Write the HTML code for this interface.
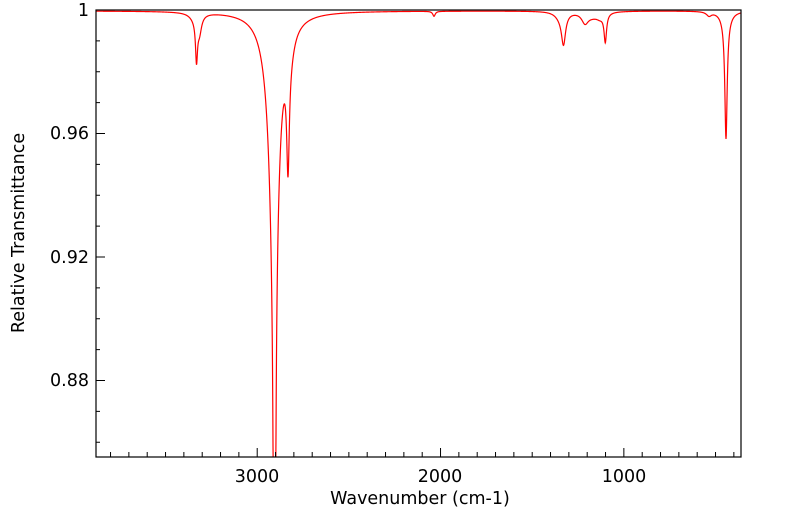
<!DOCTYPE html>
<html><head><meta charset="utf-8"><style>
html,body{margin:0;padding:0;background:#fff;}
svg{display:block;font-family:"DejaVu Sans","Liberation Sans",sans-serif;}
</style></head><body>
<svg id="s" width="799" height="516" viewBox="0 0 799 516" xmlns="http://www.w3.org/2000/svg">
<defs><clipPath id="c"><rect x="96" y="10" width="645" height="447"/></clipPath></defs>
<rect width="799" height="516" fill="#fff"/>
<path id="spec" d="" fill="none" stroke="#ff0000" stroke-width="1.2" clip-path="url(#c)"/>
<g id="ticks" stroke="#000" stroke-width="1"></g>
<rect x="96" y="10" width="645" height="447" fill="none" stroke="#000" stroke-width="1.2"/>
<g font-size="17.5" fill="#000" text-anchor="end">
<text x="89" y="16">1</text>
<text x="89" y="139">0.96</text>
<text x="89" y="263">0.92</text>
<text x="89" y="386">0.88</text>
</g>
<g font-size="17.5" fill="#000" text-anchor="middle">
<text x="257" y="482">3000</text>
<text x="440" y="482">2000</text>
<text x="624" y="482">1000</text>
<text x="420" y="504">Wavenumber (cm-1)</text>
<text transform="translate(24,233) rotate(-90)">Relative Transmittance</text>
</g>
</svg>
<script>
var ns="http://www.w3.org/2000/svg",g=document.getElementById("ticks");
function ln(x1,y1,x2,y2){var l=document.createElementNS(ns,"line");l.setAttribute("x1",x1);l.setAttribute("y1",y1);l.setAttribute("x2",x2);l.setAttribute("y2",y2);g.appendChild(l);}
for(var w=3800;w>=400;w-=100){var x=257.2+(3000-w)*0.18333;var maj=(w%1000==0);ln(x,457,x,457-(maj?9:5));}
for(var i=0;i<=14;i++){var v=1-i*0.01;var y=10+(1-v)*3087.5;if(y>457)break;var maj=(i%4==0);ln(96,y,96+(maj?9:4),y);}
var P=[[196.5,40,1.2],[199.5,16,2.5],[195,6,6],
[274.5,700,0.9],[274.3,240,5.2],[270,18,10],
[288,110,1.6],[290,16,5],[282,6,15],
[434,5,1.5],
[563.5,30,2.5],[560,5,6],[585,10,4],[592,4,8],[605.3,28,1.5],[600,5,5],
[709,4,3],[726,118,1.4],[726,10,5]];
var d="";
for(var x=96;x<=741;x+=0.25){var y=10.8;for(var k=0;k<P.length;k++){var p=P[k],dx=x-p[0];y+=p[1]*p[2]*p[2]/(dx*dx+p[2]*p[2]);}
if(y>470)y=470;d+=(d?"L":"M")+x.toFixed(2)+" "+y.toFixed(2);}
document.getElementById("spec").setAttribute("d",d);
</script>
</body></html>
